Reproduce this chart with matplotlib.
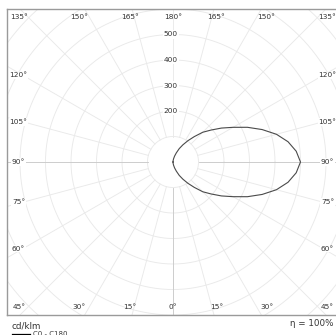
'''
Polar light distribution chart (cd/klm), C0 - C180 plane
'''
import numpy as np
import matplotlib
matplotlib.use('Agg')
import matplotlib.pyplot as plt

# gamma angle (0 = straight down) and intensity on the C0 side, cd/klm
gamma = [0, 5, 10, 15, 20, 25, 30, 35, 40, 45, 50, 55, 60, 65, 70, 75, 80, 85, 90,
         95, 100, 105, 110, 115, 120, 125, 130, 135, 140, 145, 150, 155, 160, 165, 170, 175, 180]
intensity_c0 = [0, 5, 13, 24, 38, 58, 78, 102, 130, 165, 195, 232, 272, 322, 372, 420, 458, 485, 500,
                485, 458, 420, 372, 322, 272, 232, 195, 165, 130, 102, 78, 58, 38, 24, 13, 5, 0]
ring_values = [100, 200, 300, 400, 500, 600, 700, 800, 900]
ring_labels = [200, 300, 400, 500]
top_labels = [135, 150, 165, 180, 165, 150, 135]
side_labels = [120, 105, 90, 75, 60]
bottom_labels = [45, 30, 15, 0, 15, 30, 45]
eta_text = 'η = 100%'
unit_text = 'cd/klm'
legend_text = 'C0 - C180'

W, H = 336, 335
PX = 0.255          # pixels per cd/klm
GRID = '#e9e9e9'
AXIS = '#cacaca'
TXT = '#333333'


def px(v):
    '''
    pixel offset from the centre -> cd/klm
    '''
    return v / PX


def frame_label(ax, x, y, a, box=False):
    kw = dict(ha='center', va='center', fontsize=5.3, color=TXT, zorder=3)
    if box:
        kw['bbox'] = dict(boxstyle='square,pad=0.1', fc='white', ec='none')
    ax.text(px(x), px(y), '%d°' % a, **kw)


fig = plt.figure(figsize=(W / 100, H / 100), dpi=100)
ax = fig.add_axes([7 / W, 20 / H, 332 / W, 306 / H])
ax.set_xlim(-px(166), px(166))
ax.set_ylim(-px(153), px(153))
ax.set_xticks([])
ax.set_yticks([])
for s in ax.spines.values():
    s.set_color('#9a9a9a')
    s.set_linewidth(1.0)

# rings
t = np.linspace(0, 2 * np.pi, 361)
for r in ring_values:
    ax.plot(r * np.cos(t), r * np.sin(t), color=GRID, lw=0.65, zorder=1)

# radial lines every 15 degrees, starting at the 100 ring
for a in range(0, 360, 15):
    ang = np.radians(a)
    dx, dy = np.sin(ang), -np.cos(ang)
    c = AXIS if a in (0, 90, 270) else GRID
    ax.plot([100 * dx, 1200 * dx], [100 * dy, 1200 * dy], color=c, lw=0.65, zorder=1)

# ring values
for r in ring_labels:
    ax.text(px(-2), r, str(r), ha='center', va='center', fontsize=5.3, color=TXT, zorder=3,
            bbox=dict(boxstyle='square,pad=0.15', fc='white', ec='none'))

# angle labels along the frame
for i, a in enumerate(top_labels):
    sign = -1 if i < 3 else 1
    frame_label(ax, sign * min(162 * np.tan(np.radians(180 - a)), 154), 145, a)
for i, a in enumerate(bottom_labels):
    sign = -1 if i < 3 else 1
    frame_label(ax, sign * min(162 * np.tan(np.radians(a)), 154), -145, a)
for a in side_labels:
    for sign in (-1, 1):
        frame_label(ax, sign * 154.5, 150 * np.tan(np.radians(a - 90)), a, box=True)

# the curve
g = np.radians(gamma)
I = np.array(intensity_c0)
ax.plot(I * np.sin(g), -I * np.cos(g), color='#4a4a4a', lw=0.8, zorder=4)

# texts below the chart
fig.text(12 / W, 1 - 326 / H, unit_text, ha='left', va='center', fontsize=6.3, color=TXT)
fig.text(333 / W, 1 - 324 / H, eta_text, ha='right', va='center', fontsize=6.3, color=TXT)
fig.add_artist(plt.Line2D([12 / W, 30 / W], [1 - 333.5 / H, 1 - 333.5 / H], color='black', lw=0.9))
fig.text(33 / W, 1 - 331 / H, legend_text, ha='left', va='top', fontsize=5, color=TXT)

fig.savefig('out.png', dpi=100)
